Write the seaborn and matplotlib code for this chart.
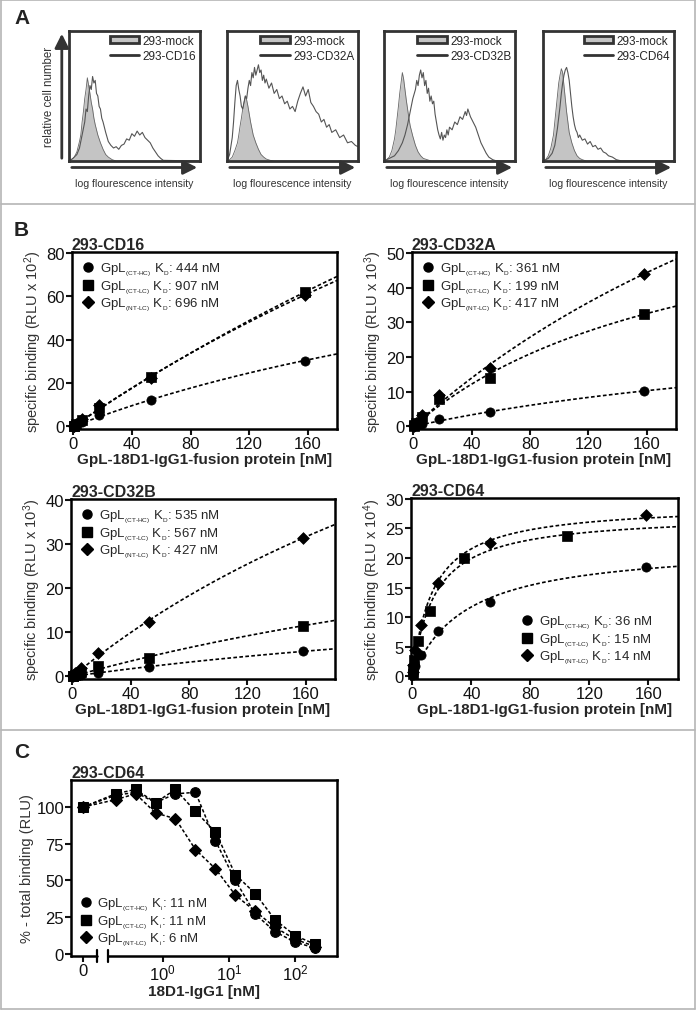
import numpy as np
import matplotlib
matplotlib.use("Agg")
import matplotlib.pyplot as plt
from matplotlib.lines import Line2D
from matplotlib.patches import Patch
import seaborn as sns

# ---------------- data ----------------
# panel A: flow histograms, (position on log intensity axis 0..1, relative count 0..1)
hist_names = ["293-CD16", "293-CD32A", "293-CD32B", "293-CD64"]
mock_cd16 = [(0, 0), (.02, .01), (.04, .03), (.06, .07), (.08, .15), (.09, .20), (.10, .30), (.11, .38),
             (.12, .48), (.13, .55), (.14, .64), (.15, .58), (.16, .52), (.17, .45), (.18, .40),
             (.19, .33), (.20, .28), (.22, .20), (.24, .14), (.26, .09), (.28, .05), (.30, .03),
             (.33, .01), (.36, 0), (1, 0)]
mock_cd32a = [(0, 0), (.02, .01), (.04, .03), (.06, .08), (.08, .14), (.09, .20), (.10, .27), (.11, .33),
              (.12, .40), (.13, .45), (.14, .50), (.15, .47), (.16, .42), (.17, .36), (.18, .30),
              (.19, .25), (.20, .20), (.22, .14), (.24, .09), (.26, .05), (.28, .03), (.30, .015),
              (.33, .005), (.36, 0), (1, 0)]
mock_cd32b = [(0, 0), (.02, .01), (.04, .03), (.06, .08), (.08, .17), (.09, .24), (.10, .33), (.11, .42),
              (.12, .52), (.13, .60), (.14, .68), (.15, .63), (.16, .55), (.17, .47), (.18, .40),
              (.19, .33), (.20, .27), (.22, .19), (.24, .12), (.26, .07), (.28, .04), (.30, .02),
              (.33, .01), (.36, 0), (1, 0)]
mock_cd64 = [(0, 0), (.02, .01), (.04, .04), (.06, .10), (.08, .20), (.09, .30), (.10, .40), (.11, .50),
             (.12, .60), (.13, .66), (.14, .71), (.15, .68), (.16, .58), (.17, .48), (.18, .38),
             (.19, .30), (.20, .22), (.22, .14), (.24, .08), (.26, .04), (.28, .02), (.30, .01),
             (.33, 0), (.36, 0), (1, 0)]
line_cd16 = [(0, 0), (.03, .02), (.06, .05), (.08, .10), (.10, .20), (.12, .30), (.13, .40), (.14, .38),
             (.15, .50), (.16, .58), (.17, .55), (.18, .65), (.19, .60), (.20, .62), (.21, .52),
             (.22, .50), (.23, .42), (.24, .40), (.25, .33), (.26, .30), (.28, .22), (.30, .15),
             (.32, .12), (.34, .10), (.36, .11), (.38, .09), (.40, .12), (.42, .13), (.44, .17),
             (.46, .16), (.48, .21), (.50, .19), (.52, .23), (.54, .20), (.56, .22), (.58, .18),
             (.60, .16), (.62, .14), (.64, .10), (.66, .07), (.68, .04), (.70, .02), (.72, .005), (1, 0)]
line_cd32a = [(0, 0), (.02, .05), (.04, .18), (.05, .30), (.06, .45), (.07, .58), (.08, .62), (.09, .55),
              (.10, .50), (.11, .42), (.12, .40), (.13, .45), (.14, .50), (.15, .48), (.16, .56),
              (.17, .62), (.18, .58), (.19, .68), (.20, .64), (.21, .72), (.22, .66), (.23, .70),
              (.24, .74), (.25, .68), (.26, .70), (.27, .62), (.28, .66), (.29, .60), (.30, .63),
              (.32, .56), (.34, .60), (.36, .52), (.38, .55), (.40, .48), (.42, .50), (.44, .44),
              (.46, .46), (.48, .40), (.50, .42), (.52, .38), (.54, .46), (.56, .52), (.58, .57),
              (.60, .50), (.62, .55), (.64, .45), (.66, .42), (.68, .38), (.70, .36), (.72, .30),
              (.74, .32), (.76, .26), (.78, .28), (.80, .22), (.83, .24), (.86, .18), (.89, .20),
              (.92, .14), (.95, .15), (.98, .12), (1, .11)]
line_cd32b = [(0, 0), (.04, .02), (.08, .04), (.11, .08), (.14, .14), (.16, .20), (.18, .28), (.20, .38),
              (.22, .48), (.24, .55), (.25, .62), (.26, .58), (.27, .66), (.28, .70), (.29, .64),
              (.30, .68), (.31, .58), (.32, .62), (.33, .52), (.34, .56), (.35, .46), (.36, .50),
              (.37, .44), (.38, .46), (.39, .36), (.40, .30), (.41, .24), (.42, .20), (.43, .17),
              (.44, .22), (.45, .16), (.46, .20), (.47, .18), (.48, .24), (.49, .20), (.50, .26),
              (.52, .24), (.54, .30), (.56, .28), (.58, .34), (.60, .32), (.62, .38), (.63, .35),
              (.64, .40), (.66, .34), (.68, .30), (.70, .26), (.72, .20), (.74, .14), (.76, .10),
              (.78, .06), (.80, .03), (.83, .01), (.86, 0), (1, 0)]
line_cd64 = [(0, 0), (.04, .02), (.07, .06), (.09, .12), (.11, .25), (.13, .42), (.14, .52), (.15, .60),
             (.16, .66), (.17, .70), (.18, .72), (.19, .68), (.20, .62), (.21, .52), (.22, .42),
             (.23, .34), (.24, .28), (.25, .24), (.26, .22), (.27, .18), (.28, .20), (.30, .16),
             (.32, .17), (.34, .13), (.36, .15), (.38, .11), (.40, .12), (.42, .09), (.44, .10),
             (.46, .07), (.48, .06), (.50, .04), (.53, .03), (.56, .01), (.60, 0), (1, 0)]
mock_hists = [mock_cd16, mock_cd32a, mock_cd32b, mock_cd64]
cd_hists = [line_cd16, line_cd32a, line_cd32b, line_cd64]

# panel B: saturation binding
cell_lines = ["293-CD16", "293-CD32A", "293-CD32B", "293-CD64"]
rlu_exp = [2, 3, 3, 4]
constructs = ["CT-HC", "CT-LC", "NT-LC"]
kd_values = [[444, 907, 696], [361, 199, 417], [535, 567, 427], [36, 15, 14]]
conc_b = [158, 52.7, 17.6, 5.85, 1.95, 0.65, 0.22]
conc_b_cd64_ctlc = [105, 35, 11.7, 3.9, 1.3, 0.43, 0.14]
cd16_vals = [[30.3, 12.2, 5.2, 1.8, 0.6, 0.2, 0.1],
             [61.8, 23.0, 8.5, 3.0, 1.0, 0.4, 0.1],
             [60.5, 22.5, 9.8, 3.4, 1.2, 0.4, 0.1]]
cd32a_vals = [[10.2, 4.1, 2.0, 0.8, 0.3, 0.1, 0.05],
              [32.5, 14.0, 7.8, 2.8, 1.0, 0.4, 0.1],
              [44.0, 16.7, 9.0, 3.2, 1.1, 0.4, 0.1]]
cd32b_vals = [[5.7, 2.1, 0.8, 0.4, 0.15, 0.05, 0.02],
              [11.5, 4.1, 2.3, 0.9, 0.3, 0.1, 0.05],
              [31.4, 12.3, 5.4, 1.8, 0.7, 0.3, 0.1]]
cd64_vals = [[18.5, 12.5, 7.6, 3.6, 1.8, 0.7, 0.2],
             [23.7, 20.0, 11.0, 6.0, 2.8, 1.2, 0.4],
             [27.3, 22.5, 15.7, 8.7, 4.5, 2.0, 0.7]]
b_values = [cd16_vals, cd32a_vals, cd32b_vals, cd64_vals]
b_ymax = [80, 50, 40, 30]
b_ystep = [20, 10, 10, 5]

# panel C: competition on 293-CD64
conc_c = [0, 0.195, 0.39, 0.78, 1.56, 3.125, 6.25, 12.5, 25, 50, 100, 200]
comp_ct_hc = [100, 108, 110, 103, 109, 110, 77, 50, 27, 15, 8, 4]
comp_ct_lc = [100, 109, 112, 103, 112, 97, 83, 54, 41, 23, 12.5, 6.5]
comp_nt_lc = [100, 105, 109, 96, 92, 71, 58, 40, 29, 18, 10, 5]
ki_values = [11, 11, 6]

# ---------------- style ----------------
sns.set_theme(style="ticks")
plt.rcParams["font.family"] = ["Liberation Sans", "DejaVu Sans"]
plt.rcParams["mathtext.fontset"] = "custom"
plt.rcParams["mathtext.rm"] = "Liberation Sans"
plt.rcParams["mathtext.it"] = "Liberation Sans"
plt.rcParams["axes.linewidth"] = 1.8
plt.rcParams["axes.edgecolor"] = "black"

W, H = 697, 1012
fig = plt.figure(figsize=(W / 100, H / 100), dpi=100)


def rect(l, t, r, b):
    return [l / W, 1 - b / H, (r - l) / W, (b - t) / H]


def fig_line(x0, y0, x1, y1):
    fig.add_artist(Line2D([x0 / W, x1 / W], [1 - y0 / H, 1 - y1 / H],
                          transform=fig.transFigure, color="#b5b5b5", lw=1.2))


def sub_label(construct, const, value):
    # tiny subscripts like in the original figure
    return (r"GpL$_{{}_{\text{(%s)}}}$ K$_{{}_{\text{%s}}}$: %d nM" % (construct, const, value))


# frame + panel separators
fig_line(1, 1, 695, 1)
fig_line(1, 1, 1, 1010)
fig_line(695, 1, 695, 1010)
fig_line(1, 1010, 695, 1010)
fig_line(1, 205, 695, 205)
fig_line(1, 731, 695, 731)

for lab, (x, y) in zip("ABC", [(14, 18), (14, 230), (14, 753)]):
    fig.text(x / W, 1 - y / H, lab, fontsize=15, fontweight="bold", va="center", color="#222222")

# ---------------- panel A ----------------
hist_boxes = [(69, 32, 200, 162), (227, 32, 358, 162), (384, 32, 515, 162), (543, 32, 674, 162)]
for i, box in enumerate(hist_boxes):
    ax = fig.add_axes(rect(*box))
    mx, my = zip(*mock_hists[i])
    cx, cy = zip(*cd_hists[i])
    ax.fill_between(mx, my, color="#c4c4c4", lw=0)
    ax.plot(mx, my, color="#666666", lw=0.6)
    sns.lineplot(x=list(cx), y=list(cy), color="#555555", lw=0.8, ax=ax, sort=False)
    ax.set_xlim(0, 1)
    ax.set_ylim(0, 1)
    ax.set_xticks([])
    ax.set_yticks([])
    for s in ax.spines.values():
        s.set_linewidth(2)
        s.set_color("#333333")
    handles = [Patch(facecolor="#c4c4c4", edgecolor="#333333", lw=2),
               Line2D([], [], color="#333333", lw=2)]
    ax.legend(handles, ["293-mock", hist_names[i]], loc="upper right", frameon=False,
              fontsize=8.5, handlelength=2.5, handleheight=0.6, handletextpad=0.3,
              labelspacing=0.3, borderaxespad=0.1, borderpad=0.2)
    ax.annotate("", xy=(1.0, -0.05), xytext=(0.0, -0.05), xycoords="axes fraction",
                arrowprops=dict(arrowstyle="-|>,head_length=0.7,head_width=0.35",
                                color="#333333", lw=2), annotation_clip=False)
    ax.text(0.5, -0.17, "log flourescence intensity", transform=ax.transAxes,
            ha="center", va="center", fontsize=7.6, color="#333333")
    if i == 0:
        ax.annotate("", xy=(-0.055, 1.0), xytext=(-0.055, 0.0), xycoords="axes fraction",
                    arrowprops=dict(arrowstyle="-|>,head_length=0.7,head_width=0.35",
                                    color="#333333", lw=2), annotation_clip=False)
        ax.text(-0.15, 0.5, "relative cell number", transform=ax.transAxes, rotation=90,
                ha="center", va="center", fontsize=8.3, color="#333333")

# ---------------- panel B ----------------
markers = ["o", "s", "D"]
msizes = [44, 44, 36]
b_boxes = [(72, 253, 337, 430), (412, 253, 676, 430), (71, 500, 335, 680), (411, 499, 678, 680)]
xfit = np.linspace(0, 180, 300)

for k, box in enumerate(b_boxes):
    ax = fig.add_axes(rect(*box))
    for j in range(3):
        xs = np.array(conc_b_cd64_ctlc if (k == 3 and j == 1) else conc_b)
        ys = np.array(b_values[k][j])
        kd = kd_values[k][j]
        # one-site binding fit with the reported KD
        f = xs / (kd + xs)
        bmax = np.sum(ys * f) / np.sum(f * f)
        ax.plot(xfit, bmax * xfit / (kd + xfit), color="black", lw=1.2,
                linestyle=(0, (2.2, 1.4)), zorder=2)
        sns.scatterplot(x=xs, y=ys, marker=markers[j], s=msizes[j], color="black",
                        edgecolor="black", linewidth=0.5, ax=ax, zorder=3, clip_on=False)
    ymax = b_ymax[k]
    ax.set_xlim(-1, 180)
    ax.set_ylim(-ymax * 0.015, ymax * 1.005)
    ax.set_xticks([0, 40, 80, 120, 160])
    ax.set_yticks(np.arange(0, ymax + 1, b_ystep[k]))
    ax.tick_params(direction="out", length=4, width=1.5, labelsize=12, pad=1, colors="#111111")
    ax.set_title(cell_lines[k], loc="left", fontsize=11.5, fontweight="bold", pad=2)
    ax.set_ylabel("specific binding (RLU x 10$^{%d}$)" % rlu_exp[k], fontsize=10.5,
                  color="#333333", labelpad=2)
    ax.set_xlabel("GpL-18D1-IgG1-fusion protein [nM]", fontsize=11, fontweight="bold", labelpad=1)
    handles = [Line2D([], [], marker=m, ls="none", color="black", ms=6.5 if m != "D" else 6)
               for m in markers]
    labels = [sub_label(c, "D", kd) for c, kd in zip(constructs, kd_values[k])]
    if k == 3:
        ax.legend(handles, labels, loc="lower right", bbox_to_anchor=(0.94, 0.02), frameon=False,
                  fontsize=9.5, handlelength=1.0, handletextpad=0.4, labelspacing=0.02,
                  borderaxespad=0.3)
    else:
        ax.legend(handles, labels, loc="upper left", frameon=False,
                  fontsize=9.5, handlelength=1.0, handletextpad=0.4, labelspacing=0.02,
                  borderaxespad=0.3)

# ---------------- panel C ----------------
ZERO_POS = 0.0628  # where the "0" concentration sits on the broken log axis
ax = fig.add_axes(rect(71, 781, 337, 957))
x_plot = [ZERO_POS if c == 0 else c for c in conc_c]
for vals, m, s in zip([comp_ct_hc, comp_ct_lc, comp_nt_lc], markers, [7, 7, 6]):
    sns.lineplot(x=x_plot, y=vals, color="black", lw=1.1, linestyle=(0, (2.2, 1.4)),
                 marker=m, markersize=s, markeredgecolor="black", ax=ax, sort=False,
                 clip_on=False)
ax.set_xscale("log")
ax.set_xlim(0.0414, 426)
ax.set_ylim(-1.4, 118.4)
ax.set_xticks([ZERO_POS, 1, 10, 100])
ax.set_xticklabels(["0", "$10^0$", "$10^1$", "$10^2$"])
ax.xaxis.set_minor_locator(matplotlib.ticker.NullLocator())
ax.set_yticks([0, 25, 50, 75, 100])
ax.tick_params(direction="out", length=4, width=1.5, labelsize=12, pad=1, colors="#111111")
ax.spines["bottom"].set_visible(False)
tr = ax.transAxes
for x0, x1 in [(0.0, 0.098), (0.139, 1.0)]:
    ax.add_line(Line2D([x0, x1], [0, 0], transform=tr, color="black", lw=1.8, clip_on=False))
for xb in [0.098, 0.139]:
    ax.add_line(Line2D([xb, xb], [-0.035, 0.035], transform=tr, color="black", lw=1.6,
                       clip_on=False))
ax.set_title("293-CD64", loc="left", fontsize=11.5, fontweight="bold", pad=2)
ax.set_ylabel("% - total binding (RLU)", fontsize=10.5, color="#333333", labelpad=2)
ax.set_xlabel("18D1-IgG1 [nM]", fontsize=11, fontweight="bold", labelpad=1)
handles = [Line2D([], [], marker=m, ls="none", color="black", ms=6.5 if m != "D" else 6)
           for m in markers]
labels = [sub_label(c, "i", ki) for c, ki in zip(constructs, ki_values)]
ax.legend(handles, labels, loc="lower left", frameon=False, fontsize=9.5, handlelength=1.0,
          handletextpad=0.4, labelspacing=0.02, borderaxespad=0.2)

fig.savefig("out.png", dpi=100)
